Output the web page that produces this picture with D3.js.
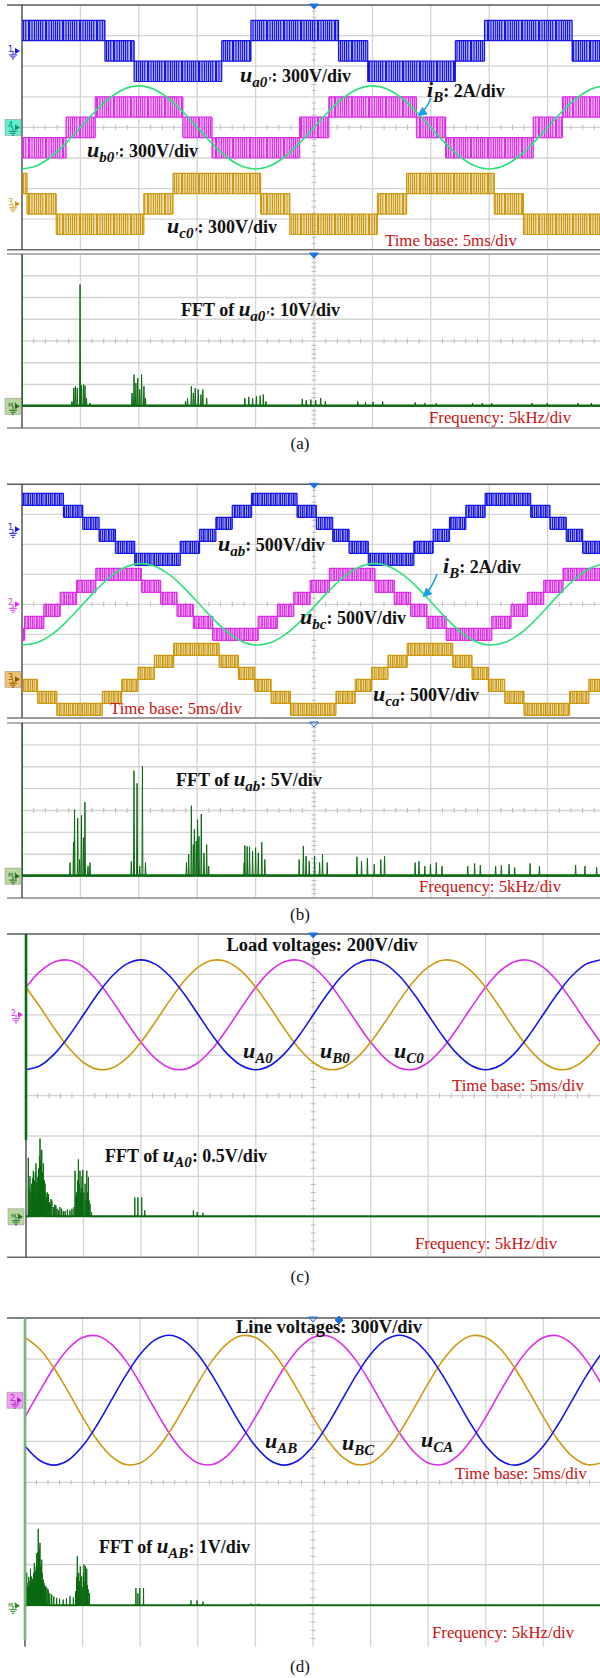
<!DOCTYPE html>
<html><head><meta charset="utf-8">
<script src="https://cdn.jsdelivr.net/npm/d3@7"></script>
<style>body{margin:0;background:#fff}svg{display:block}</style>
</head><body>
<script>
// ================= DATA =================
// common time axis for the sampled sine traces (ms)
const tMs = [0,1.25,2.5,3.75,5,6.25,7.5,8.75,10,11.25,12.5,13.75,15,16.25,17.5,18.75,20,21.25,22.5,23.75,25,26.25,27.5,28.75,30,31.25,32.5,33.75,35,36.25,37.5,38.75,40,41.25,42.5,43.75,45,46.25,47.5,48.75,50];

// (a) phase current i_B (A)
const iBa = [-2.72,-2.51,-1.92,-1.04,0,1.04,1.92,2.51,2.72,2.51,1.92,1.04,0,-1.04,-1.92,-2.51,-2.72,-2.51,-1.92,-1.04,0,1.04,1.92,2.51,2.72,2.51,1.92,1.04,0,-1.04,-1.92,-2.51,-2.72,-2.51,-1.92,-1.04,0,1.04,1.92,2.51,2.72];
// (b) phase current i_B (A)
const iBb = [-2.71,-2.57,-2.04,-1.2,-0.17,0.88,1.8,2.44,2.71,2.57,2.04,1.2,0.17,-0.88,-1.8,-2.44,-2.71,-2.57,-2.04,-1.2,-0.17,0.88,1.8,2.44,2.71,2.57,2.04,1.2,0.17,-0.88,-1.8,-2.44,-2.71,-2.57,-2.04,-1.2,-0.17,0.88,1.8,2.44,2.71];

// (a) pole voltages: switching bands (band k spans levelsA[k]..levelsA[k+1]), edges in ms
const levelsA = [-300,-100,100,300];
const ua0Edges = [0,7.1,9.6,17.1,19.6,27.1,29.6,37.1,39.6,47.1,49.6,51];
const ua0Bands = [2,1,0,1,2,1,0,1,2,1,0];
const ub0Edges = [0,3.77,6.27,13.77,16.27,23.77,26.27,33.77,36.27,43.77,46.27,51];
const ub0Bands = [0,1,2,1,0,1,2,1,0,1,2];
const uc0Edges = [0,0.43,2.93,10.43,12.93,20.43,22.93,30.43,32.93,40.43,42.93,50.43,51];
const uc0Bands = [2,1,0,1,2,1,0,1,2,1,0,1];

// (b) line voltages: 7-level staircase bands
const levelsB = [-600,-400,-200,0,200,400,600];
const uabEdges = [0,3.55,5.2,6.6,8.0,9.65,13.55,15.2,16.6,18.0,19.65,23.55,25.2,26.6,28.0,29.65,33.55,35.2,36.6,38.0,39.65,43.55,45.2,46.6,48.0,49.65,51];
const uabBands = [5,4,3,2,1,0,1,2,3,4,5,4,3,2,1,0,1,2,3,4,5,4,3,2,1,0];
const ubcEdges = [0,0.22,1.87,3.27,4.67,6.32,10.22,11.87,13.27,14.67,16.32,20.22,21.87,23.27,24.67,26.32,30.22,31.87,33.27,34.67,36.32,40.22,41.87,43.27,44.67,46.32,50.22,51];
const ubcBands = [0,1,2,3,4,5,4,3,2,1,0,1,2,3,4,5,4,3,2,1,0,1,2,3,4,5,4];
const ucaEdges = [0,1.33,2.98,6.88,8.53,9.93,11.33,12.98,16.88,18.53,19.93,21.33,22.98,26.88,28.53,29.93,31.33,32.98,36.88,38.53,39.93,41.33,42.98,46.88,48.53,49.93,51];
const ucaBands = [2,1,0,1,2,3,4,5,4,3,2,1,0,1,2,3,4,5,4,3,2,1,0,1,2,3];

// (c) load voltages (V)
const uA0 = [-272,-251,-192,-104,0,104,192,251,272,251,192,104,0,-104,-192,-251,-272,-251,-192,-104,0,104,192,251,272,251,192,104,0,-104,-192,-251,-272,-251,-192,-104,0,104,192,251,272];
const uB0 = [136,36,-70,-166,-236,-270,-263,-216,-136,-36,70,166,236,270,263,216,136,36,-70,-166,-236,-270,-263,-216,-136,-36,70,166,236,270,263,216,136,36,-70,-166,-236,-270,-263,-216,-136];
const uC0 = [136,216,263,270,236,166,70,-36,-136,-216,-263,-270,-236,-166,-70,36,136,216,263,270,236,166,70,-36,-136,-216,-263,-270,-236,-166,-70,36,136,216,263,270,236,166,70,-36,-136];
// (d) line voltages (V)
const uAB = [-335,-438,-474,-438,-335,-181,0,181,335,438,474,438,335,181,0,-181,-335,-438,-474,-438,-335,-181,0,181,335,438,474,438,335,181,0,-181,-335,-438,-474,-438,-335,-181,0,181,335];
const uBC = [458,376,237,62,-123,-289,-410,-470,-458,-376,-237,-62,123,289,410,470,458,376,237,62,-123,-289,-410,-470,-458,-376,-237,-62,123,289,410,470,458,376,237,62,-123,-289,-410,-470,-458];
const uCA = [-123,62,237,376,458,470,410,289,123,-62,-237,-376,-458,-470,-410,-289,-123,62,237,376,458,470,410,289,123,-62,-237,-376,-458,-470,-410,-289,-123,62,237,376,458,470,410,289,123];

// FFT spectra: frequency (kHz) and amplitude (V)
const fftAFreq = [0,4.28,4.44,4.57,4.73,4.97,5.09,5.26,5.39,5.52,5.82,9.42,9.59,9.75,9.91,10.08,10.24,10.44,10.57,14.0,14.17,14.5,14.67,14.83,15.09,15.32,15.48,15.81,19.08,19.42,19.74,20.07,20.39,20.66,20.89,24.0,24.33,24.73,25.15,25.57,25.97,28.75,29.41,30.06,30.88,33.66,34.49,35.47,38.58,39.4,40.22,43.66,44.97,47.6,48.74];
const fftAAmp  = [75,2.3,8.4,9.2,8.4,56,9.5,10,9.5,3.8,1.5,6.1,14.6,10.7,13,7.7,14.6,9.2,3.8,2.3,3.8,9.2,6.1,8.4,7.7,5.4,7.7,3.8,3.8,4.3,3.8,4.6,4.9,5.4,2.3,3.4,2.8,3.1,2.8,3.8,2.3,2.3,1.8,2.0,2.3,1.8,1.5,1.5,1.5,1.5,1.5,1.5,1.5,1.5,1.5];
const fftBFreq = [0,4.11,4.41,4.5,4.77,4.93,5.09,5.26,5.39,5.65,5.82,9.36,9.59,9.85,10.08,10.31,10.57,14.08,14.27,14.5,14.67,14.76,14.92,15.03,15.15,15.35,15.58,15.81,15.98,19.02,19.08,19.28,19.48,19.74,20.0,20.23,20.53,20.79,23.73,24.09,24.32,24.59,25.05,25.48,25.73,26.13,28.68,29.07,29.57,30.16,30.72,31.04,33.66,33.99,34.49,34.97,35.47,35.96,38.16,38.75,39.24,40.55,41.04,41.7,42.18,43.5,44.3,47.4,48.2,49.2];
const fftBAmp  = [40,3.1,7.8,15.2,13.3,3.8,13.9,8.8,16.9,2.3,3.1,3.4,24.1,21.2,2.3,25.1,3.1,3.1,5,16.1,7.2,10.7,8,12.9,9.1,14.2,5.3,7.2,2.3,3.1,7,6.8,6.7,5.7,6.5,5.3,7.8,3.8,3.8,6.9,4.6,3.4,4.6,3.1,5,3.1,4.4,3.4,4.1,2.7,3.8,4.6,3.1,3.4,2.3,2.7,3.1,2.3,2.3,2.9,2.5,2.3,2.5,2.7,2,2.9,2.3,2.5,2.3,2.0];
const fftCFreq = [0.2,0.28,0.35,0.42,0.5,0.57,0.64,0.7,0.75,0.81,0.87,0.94,1.02,1.08,1.12,1.17,1.22,1.27,1.3,1.34,1.37,1.41,1.45,1.51,1.56,1.6,1.66,1.73,1.8,1.87,1.95,2.02,2.09,2.17,2.25,2.38,2.5,2.6,2.7,2.81,2.95,3.1,3.25,3.4,3.6,3.83,4.0,4.18,4.27,4.35,4.4,4.48,4.56,4.63,4.7,4.76,4.82,4.88,4.94,5.04,5.14,5.22,5.29,5.36,5.43,5.5,5.57,5.7,9.47,9.74,10.07,10.34,14.57,14.9,15.4,19.5,20.2];
const fftCAmp  = [0.73,0.35,0.5,0.3,0.41,0.48,0.57,0.36,0.45,0.55,0.66,0.42,0.49,0.58,0.6,0.75,0.97,0.62,0.7,0.8,0.83,0.5,0.55,0.66,0.38,0.45,0.41,0.3,0.24,0.3,0.28,0.18,0.16,0.22,0.2,0.12,0.15,0.14,0.1,0.08,0.12,0.1,0.07,0.07,0.09,0.08,0.1,0.12,0.57,0.25,0.3,0.45,0.71,0.4,0.57,0.3,0.35,0.5,0.58,0.3,0.41,0.2,0.57,0.3,0.49,0.2,0.16,0.06,0.24,0.24,0.24,0.08,0.08,0.06,0.05,0.02,0.02];
const fftDFreq = [0.15,0.22,0.27,0.33,0.37,0.43,0.48,0.53,0.58,0.64,0.7,0.75,0.81,0.86,0.92,0.97,1.02,1.08,1.12,1.15,1.19,1.22,1.26,1.3,1.34,1.38,1.42,1.45,1.49,1.52,1.59,1.65,1.7,1.76,1.82,1.92,2.02,2.15,2.32,2.5,2.75,3.0,3.32,3.6,3.91,4.2,4.4,4.48,4.54,4.6,4.66,4.71,4.8,4.86,4.92,5.02,5.08,5.12,5.2,5.25,5.3,5.36,5.42,5.48,5.58,9.63,9.8,9.96,10.29,14.41,14.93,15.45,19.6,20.3,24.8,25.4];
const fftDAmp  = [0.8,0.45,0.55,0.7,0.47,0.6,0.9,0.5,0.71,0.65,0.6,0.8,1.04,0.7,0.85,0.95,1.28,0.9,1.3,1.87,1.2,1.1,1.4,1.53,0.9,0.95,1.0,1.12,0.8,0.7,0.63,0.55,0.5,0.45,0.47,0.42,0.39,0.3,0.27,0.22,0.19,0.17,0.15,0.18,0.23,0.2,0.35,0.7,1.2,0.5,0.8,0.6,0.96,0.4,0.71,0.45,0.8,1.0,0.6,0.96,0.5,0.9,0.5,0.4,0.31,0.43,0.3,0.43,0.43,0.13,0.13,0.1,0.05,0.05,0.04,0.04];

// ================= DRAWING =================
const FONT = '"Liberation Serif","Times New Roman",Times,serif';
const COL = {blue:'#1515e8', mag:'#dc2ee8', gold:'#cc9a12', cur:'#2ee07c', fft:'#0c6a12', red:'#cc1111', grid:'#d4d4d4', arrow:'#1e9fe6'};

const svg = d3.select('body').append('svg').attr('width',600).attr('height',1678);
const defs = svg.append('defs');
let clipN = 0;

function stripePattern(id, color, stripes, w){
  const p = defs.append('pattern').attr('id',id).attr('patternUnits','userSpaceOnUse').attr('width',w).attr('height',40);
  stripes.forEach(s=>p.append('rect').attr('x',s[0]).attr('y',0).attr('width',s[1]).attr('height',40).attr('fill',color));
}
const stripesA = [[0,1.4],[2.1,0.9],[3.6,1.8],[6.0,1.0],[7.6,1.3],[9.5,0.8],[11.0,2.0],[13.6,1.1],[15.3,1.1]];
const stripesB = [[0,1.8],[2.5,1.4],[4.5,2.2],[7.3,1.2],[9.2,1.9],[11.7,1.3],[13.6,2.0],[16.2,1.2]];
stripePattern('pa-blue',COL.blue,stripesA,17);
stripePattern('pa-mag',COL.mag,stripesA,17);
stripePattern('pa-gold',COL.gold,stripesA,17);
stripePattern('pb-blue',COL.blue,stripesB,18);
stripePattern('pb-mag',COL.mag,stripesB,18);
stripePattern('pb-gold',COL.gold,stripesB,18);

defs.append('marker').attr('id','arr').attr('viewBox','0 0 10 10').attr('refX',8).attr('refY',5)
  .attr('markerWidth',6).attr('markerHeight',6).attr('orient','auto')
  .append('path').attr('d','M0,0L10,5L0,10z').attr('fill',COL.arrow);

function panel(cfg){
  const g = svg.append('g');
  const full = cfg.top + cfg.nH*cfg.divH;
  const bottom = cfg.bottom !== undefined ? cfg.bottom : full;
  const xs = d3.scaleLinear().domain([0,50]).range([cfg.x0, cfg.x0 + 10*cfg.divW]);
  const ys = d3.scaleLinear().domain([-4,4]).range([full, cfg.top]);
  const grid = g.append('g').attr('stroke',COL.grid).attr('stroke-width',1.3);
  d3.range(1,11).forEach(i=>{const x=cfg.x0+i*cfg.divW; if(x<600) grid.append('line').attr('x1',x).attr('x2',x).attr('y1',cfg.top).attr('y2',bottom);});
  d3.range(1,cfg.nH).forEach(j=>{const y=ys(4-j); if(y<bottom-1) grid.append('line').attr('x1',cfg.x0).attr('x2',600).attr('y1',y).attr('y2',y);});
  const cx = cfg.x0+5*cfg.divW, cy = ys(0);
  const tk = g.append('g').attr('stroke','#bdbdbd').attr('stroke-width',1);
  d3.range(1,50).forEach(k=>{ if(k%5){const x=cfg.x0+k*cfg.divW/5; if(x<600) tk.append('line').attr('x1',x).attr('x2',x).attr('y1',cy-2.5).attr('y2',cy+2.5);} });
  d3.range(1,40).forEach(k=>{ if(k%5){const y=cfg.top+k*cfg.divH/5; if(y<bottom-1) tk.append('line').attr('x1',cx-2.5).attr('x2',cx+2.5).attr('y1',y).attr('y2',y);} });
  g.append('line').attr('x1',7).attr('x2',600).attr('y1',cfg.top).attr('y2',cfg.top).attr('stroke',cfg.topColor||'#5a5a5a').attr('stroke-width',1.6);
  if(cfg.bottomBorder) g.append('line').attr('x1',7).attr('x2',600).attr('y1',bottom).attr('y2',bottom).attr('stroke',cfg.bottomBorder).attr('stroke-width',1.4);
  g.append('line').attr('x1',cfg.x0).attr('x2',cfg.x0).attr('y1',cfg.top).attr('y2',bottom).attr('stroke','#3a3a3a').attr('stroke-width',1.3);
  const id = 'clip'+(clipN++);
  defs.append('clipPath').attr('id',id).append('rect').attr('x',cfg.x0).attr('y',cfg.top).attr('width',600-cfg.x0).attr('height',bottom-cfg.top);
  const layer = svg.append('g').attr('clip-path',`url(#${id})`);
  return {xs, ys, g, layer, top:cfg.top, bottom, cx};
}

function sineTrace(p, vals, vpd, off, color, w){
  const line = d3.line().x((d,i)=>p.xs(tMs[i])).y(d=>p.ys(off + d/vpd)).curve(d3.curveCatmullRom.alpha(0.5));
  p.layer.append('path').datum(vals).attr('d',line).attr('fill','none').attr('stroke',color).attr('stroke-width',w||1.6).attr('stroke-linejoin','round');
}

function pwmTrace(p, edges, bands, levels, vpd, off, color, pat){
  const g = p.layer.append('g');
  let d = '';
  bands.forEach((b,i)=>{
    const x1=p.xs(edges[i]), x2=p.xs(edges[i+1]);
    const yHi=p.ys(off+levels[b+1]/vpd), yLo=p.ys(off+levels[b]/vpd);
    g.append('rect').attr('x',x1).attr('y',yHi).attr('width',x2-x1).attr('height',yLo-yHi).attr('fill',`url(#${pat})`);
    d += `M${x1},${yHi}H${x2}M${x1},${yLo}H${x2}`;
    if(i>0){
      const pb = bands[i-1];
      const top = p.ys(off+levels[Math.max(b,pb)+1]/vpd), bot = p.ys(off+levels[Math.min(b,pb)]/vpd);
      d += `M${x1},${top}V${bot}`;
    }
  });
  g.append('path').attr('d',d).attr('fill','none').attr('stroke',color).attr('stroke-width',1.2);
}

function fftTrace(p, freqs, amps, vpd, off, color, baseW, half){
  const yb = p.ys(off);
  const hw = half || 0.5;
  const idx = d3.range(freqs.length).sort((a,b)=>freqs[a]-freqs[b]);
  let d = `M${p.xs(0)},${yb}`;
  idx.forEach(i=>{
    const x=p.xs(freqs[i]), y=p.ys(off+amps[i]/vpd);
    d += `L${x-hw},${yb}L${x},${y}L${x+hw},${yb}`;
  });
  d += `L${p.xs(50)},${yb}`;
  p.layer.append('line').attr('x1',p.xs(0)).attr('x2',600).attr('y1',yb-0.6).attr('y2',yb-0.6).attr('stroke',color).attr('stroke-width',baseW||2);
  p.layer.append('path').attr('d',d).attr('fill','none').attr('stroke',color).attr('stroke-width',1.0).attr('stroke-linejoin','miter');
}

function rich(x, y, parts, anchor){
  const t = svg.append('text').attr('x',x).attr('y',y).attr('font-family',FONT).attr('text-anchor',anchor||'start');
  parts.forEach(pt=>{
    t.append('tspan').text(pt.t).attr('font-size',pt.s).attr('font-weight',pt.b?'bold':'normal')
     .attr('font-style',pt.i?'italic':'normal').attr('dy',pt.dy||0).attr('fill',pt.c||'#111');
  });
  return t;
}
function uLabel(x, y, sym, sub, rest, prefix, big){
  const parts = [];
  if(prefix) parts.push({t:prefix, s:18, b:1});
  parts.push({t:sym, s:big||22, b:1, i:1});
  parts.push({t:sub, s:15, b:1, i:1, dy:5});
  if(rest) parts.push({t:rest, s:18, b:1, dy:-5});
  return rich(x, y, parts);
}
function redText(x, y, s){ rich(x, y, [{t:s, s:16.8, c:COL.red}]); }

function marker(x, y, label, color, boxFill){
  const g = svg.append('g').attr('transform',`translate(${x},${y})`);
  if(boxFill) g.append('rect').attr('x',-8).attr('y',-8).attr('width',16).attr('height',16).attr('fill',boxFill).attr('stroke','#9a9a9a').attr('stroke-width',0.6);
  g.append('text').attr('x',-5).attr('y',1).attr('font-family','DejaVu Sans,sans-serif').attr('font-size',label.length>1?6:8).attr('fill',color).text(label);
  g.append('path').attr('d','M2,-3L7,0L2,3Z').attr('fill',color);
  g.append('path').attr('d','M0,0V4M-4,4H4M-2.5,6H2.5M-1,8H1').attr('stroke',color).attr('stroke-width',1).attr('fill','none');
}
function topMark(x, y, hollow, diamond){
  const d = diamond ? `M${x-4},${y}L${x},${y-4}L${x+4},${y}L${x},${y+4}Z` : `M${x-4.5},${y-1}L${x+4.5},${y-1}L${x},${y+4}Z`;
  svg.append('path').attr('d',d).attr('fill',hollow?'none':'#1f6fe0').attr('stroke','#1f6fe0').attr('stroke-width',1);
}

// ---------- (a) ----------
const pa = panel({x0:22, divW:58.4, top:5, divH:30.6, nH:8, bottomBorder:'#6a6a6a'});
pwmTrace(pa, ua0Edges, ua0Bands, levelsA, 300, 2.5, COL.blue, 'pa-blue');
pwmTrace(pa, ub0Edges, ub0Bands, levelsA, 300, 0, COL.mag, 'pa-mag');
pwmTrace(pa, uc0Edges, uc0Bands, levelsA, 300, -2.5, COL.gold, 'pa-gold');
sineTrace(pa, iBa, 2, 0, COL.cur, 1.7);
topMark(pa.cx, 5);
marker(13, pa.ys(2.5), '1', COL.blue);
marker(13, pa.ys(0), '4', '#1a8a6a', '#5ff0cf');
marker(13, pa.ys(-2.5), '3', COL.gold);
uLabel(240, 82, 'u', "a0'", ': 300V/div');
uLabel(427, 97, 'i', 'B', ': 2A/div');
uLabel(87, 157, 'u', "b0'", ': 300V/div');
uLabel(167, 233, 'u', "c0'", ': 300V/div');
redText(385, 246, 'Time base: 5ms/div');
svg.append('path').attr('d','M431,98Q426,110 419,115').attr('fill','none').attr('stroke',COL.arrow).attr('stroke-width',1.6).attr('marker-end','url(#arr)');

const pafft = panel({x0:22, divW:58.4, top:254, divH:21.75, nH:8, bottomBorder:'#8a8a8a', topColor:'#9a9a9a'});
fftTrace(pafft, fftAFreq, fftAAmp, 10, -3, COL.fft, 2.2, 0.5);
topMark(pafft.cx, 254);
marker(13, pafft.ys(-3), 'M1', '#2a6a2a', '#b8d8a0');
uLabel(181, 316, 'u', "a0'", ': 10V/div', 'FFT of ', 21);
redText(429, 422.5, 'Frequency: 5kHz/div');
rich(300, 449, [{t:'(a)', s:17}], 'middle');

// ---------- (b) ----------
const pb = panel({x0:22, divW:58.4, top:484.3, divH:30, nH:8, bottom:718, bottomBorder:'#7a7a7a'});
pwmTrace(pb, uabEdges, uabBands, levelsB, 500, 2.5, COL.blue, 'pb-blue');
pwmTrace(pb, ubcEdges, ubcBands, levelsB, 500, 0, COL.mag, 'pb-mag');
pwmTrace(pb, ucaEdges, ucaBands, levelsB, 500, -2.5, COL.gold, 'pb-gold');
sineTrace(pb, iBb, 2, 0, COL.cur, 1.6);
topMark(pb.cx, 484.3);
marker(13, pb.ys(2.5), '1', COL.blue);
marker(13, pb.ys(0), '2', COL.mag);
marker(13, pb.ys(-2.5), '3', '#8a5a00', '#f2c070');
uLabel(218, 551, 'u', 'ab', ': 500V/div');
uLabel(443, 573, 'i', 'B', ': 2A/div');
uLabel(300, 624, 'u', 'bc', ': 500V/div');
uLabel(373, 701, 'u', 'ca', ': 500V/div');
redText(110, 714, 'Time base: 5ms/div');
svg.append('path').attr('d','M437,574Q432,588 424,596').attr('fill','none').attr('stroke',COL.arrow).attr('stroke-width',1.6).attr('marker-end','url(#arr)');

const pbfft = panel({x0:22, divW:58.4, top:723, divH:21.875, nH:8, bottomBorder:'#8a8a8a', topColor:'#9a9a9a'});
fftTrace(pbfft, fftBFreq, fftBAmp, 5, -3, COL.fft, 2.6, 0.5);
topMark(pbfft.cx, 723, true);
marker(13, pbfft.ys(-3), 'M1', '#2a6a2a', '#b8d8a0');
uLabel(176, 786, 'u', 'ab', ': 5V/div', 'FFT of ', 21);
redText(419, 892, 'Frequency: 5kHz/div');
rich(300, 920, [{t:'(b)', s:17}], 'middle');

// ---------- (c) ----------
const pc = panel({x0:26, divW:57.45, top:934, divH:40.4, nH:8, bottomBorder:'#6a6a6a'});
svg.append('line').attr('x1',26).attr('x2',26).attr('y1',934).attr('y2',1140).attr('stroke',COL.fft).attr('stroke-width',2.6);
sineTrace(pc, uC0, 200, 2, COL.mag, 1.6);
sineTrace(pc, uB0, 200, 2, COL.gold, 1.6);
sineTrace(pc, uA0, 200, 2, COL.blue, 1.6);
fftTrace(pc, fftCFreq, fftCAmp, 0.5, -3, COL.fft, 1.8, 0.2);
topMark(pc.cx, 934);
marker(16, pc.ys(2), '2', COL.mag);
marker(16, pc.ys(-3), 'M1', '#2a6a2a', '#b8d8a0');
rich(322, 951, [{t:'Load voltages: 200V/div', s:18.5, b:1}], 'middle');
uLabel(243, 1058, 'u', 'A0');
uLabel(320, 1058, 'u', 'B0');
uLabel(394, 1058, 'u', 'C0');
redText(452, 1091, 'Time base: 5ms/div');
uLabel(105, 1162, 'u', 'A0', ': 0.5V/div', 'FFT of ', 21);
redText(415, 1249, 'Frequency: 5kHz/div');
rich(300, 1282, [{t:'(c)', s:17}], 'middle');

// ---------- (d) ----------
const pd = panel({x0:25, divW:57.6, top:1318, divH:41.1, nH:8});
svg.append('line').attr('x1',25).attr('x2',25).attr('y1',1318).attr('y2',1640).attr('stroke','#7cc47c').attr('stroke-width',3).attr('opacity',0.8);
sineTrace(pd, uCA, 300, 2, COL.mag, 1.6);
sineTrace(pd, uBC, 300, 2, COL.gold, 1.6);
sineTrace(pd, uAB, 300, 2, COL.blue, 1.6);
fftTrace(pd, fftDFreq, fftDAmp, 1, -3, COL.fft, 1.6, 0.2);
topMark(pd.cx, 1318, true);
topMark(339, 1320, false, true);
marker(15, pd.ys(2), '2', '#b020c0', '#f0a0f4');
marker(13, pd.ys(-3), 'M1', '#2a8a2a');
rich(329, 1333, [{t:'Line voltages: 300V/div', s:18.5, b:1}], 'middle');
uLabel(265, 1448, 'u', 'AB');
uLabel(342, 1450, 'u', 'BC');
uLabel(421, 1447, 'u', 'CA');
redText(455, 1479, 'Time base: 5ms/div');
uLabel(99, 1553, 'u', 'AB', ': 1V/div', 'FFT of ', 21);
redText(432, 1638, 'Frequency: 5kHz/div');
rich(300, 1672, [{t:'(d)', s:17}], 'middle');
</script>
</body></html>
